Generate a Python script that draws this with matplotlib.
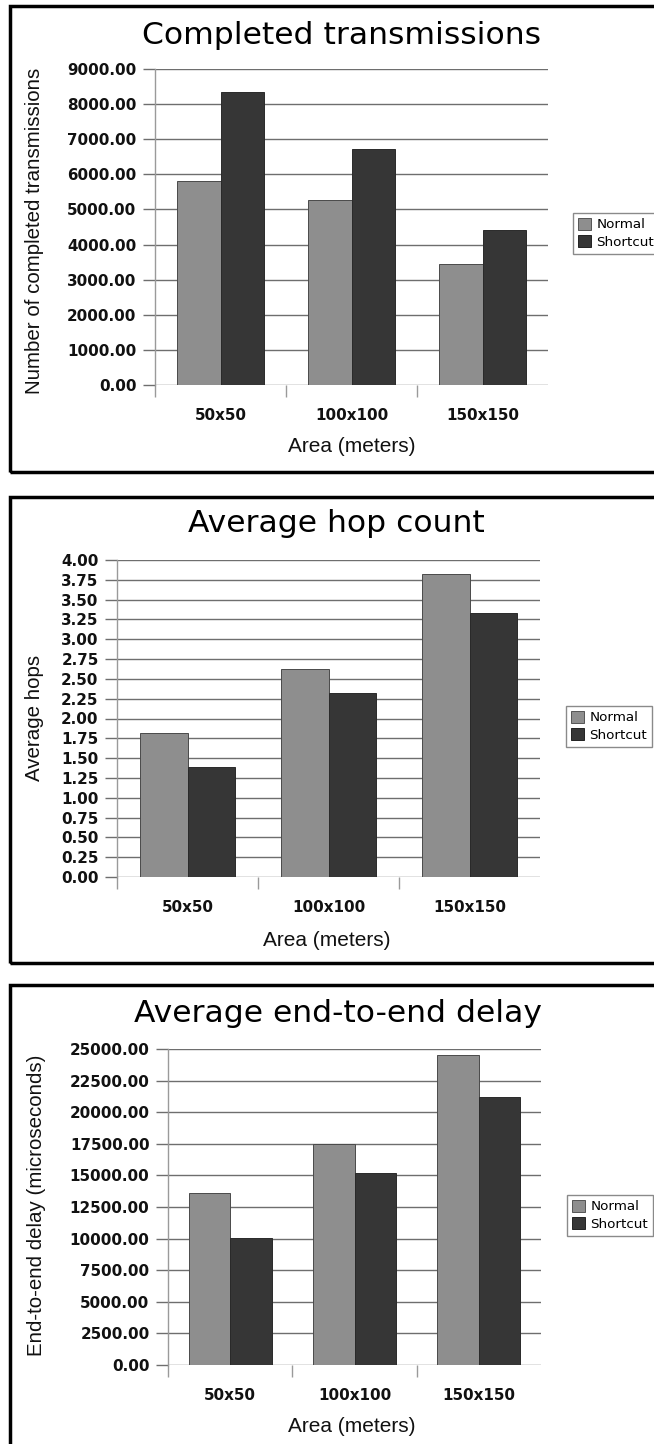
import matplotlib
matplotlib.use("Agg")
import matplotlib.pyplot as plt
from matplotlib.patches import Rectangle, Patch
from matplotlib.ticker import FormatStrFormatter, FixedLocator
import numpy as np

categories = ["50x50", "100x100", "150x150"]
series_names = ["Normal", "Shortcut"]

completed_normal = [5800, 5257, 3457]
completed_shortcut = [8343, 6733, 4410]

hops_normal = [1.82, 2.63, 3.82]
hops_shortcut = [1.385, 2.32, 3.325]

delay_normal = [13570, 17510, 24520]
delay_shortcut = [10080, 15185, 21240]

W, H = 654, 1444
fig = plt.figure(figsize=(W / 100, H / 100), dpi=100)

C_NORMAL = "#8e8e8e"
C_SHORT = "#363636"
GRID = "#6e6e6e"

panels = [
    dict(title="Completed transmissions", ylabel="Number of completed transmissions",
         normal=completed_normal, shortcut=completed_shortcut,
         ymax=9000, step=1000, ax=(155, 548, 69, 385), frame=(10, 6, 472),
         title_xy=(341, 35), ylabel_xy=(35, 231), xlabel_xy=(352, 447),
         legend_xy=(573, 213), bw=0.33),
    dict(title="Average hop count", ylabel="Average hops",
         normal=hops_normal, shortcut=hops_shortcut,
         ymax=4.0, step=0.25, ax=(117, 540, 560, 877), frame=(10, 497, 963),
         title_xy=(336, 524), ylabel_xy=(35, 718), xlabel_xy=(327, 940),
         legend_xy=(566, 706), bw=0.335),
    dict(title="Average end-to-end delay", ylabel="End-to-end delay (microseconds)",
         normal=delay_normal, shortcut=delay_shortcut,
         ymax=25000, step=2500, ax=(168, 541, 1049, 1365), frame=(10, 985, 1520),
         title_xy=(338, 1014), ylabel_xy=(37, 1205), xlabel_xy=(352, 1427),
         legend_xy=(567, 1195), bw=0.335),
]

x = np.arange(len(categories))

for p in panels:
    # frame
    fx, ftop, fbot = p["frame"]
    fig.add_artist(Rectangle((fx / W, 1 - fbot / H), (W + 50 - fx) / W, (fbot - ftop) / H,
                             transform=fig.transFigure, fill=False, edgecolor="black",
                             linewidth=2.5, clip_on=False))
    l, r, t, b = p["ax"]
    ax = fig.add_axes([l / W, 1 - b / H, (r - l) / W, (b - t) / H])
    bw = p["bw"]
    ax.bar(x - bw / 2, p["normal"], width=bw, color=C_NORMAL, edgecolor="#4a4a4a",
           linewidth=0.7, zorder=3, label=series_names[0])
    ax.bar(x + bw / 2, p["shortcut"], width=bw, color=C_SHORT, edgecolor="#2a2a2a",
           linewidth=0.7, zorder=3, label=series_names[1])
    ax.set_xlim(-0.5, len(categories) - 0.5)
    ax.set_ylim(0, p["ymax"])
    ticks = np.arange(0, p["ymax"] + p["step"] / 2, p["step"])
    ax.set_yticks(ticks)
    ax.yaxis.set_major_formatter(FormatStrFormatter("%.2f"))
    ax.yaxis.grid(True, color=GRID, linewidth=1.0, zorder=0)
    ax.tick_params(axis="y", length=8.3, width=1.0, color=GRID, pad=5,
                   labelsize=10.9)
    for lab in ax.get_yticklabels():
        lab.set_fontweight("bold")
        lab.set_color("#111111")
    ax.set_xticks(x)
    ax.set_xticklabels(categories, fontsize=10.9, fontweight="bold", color="#111111")
    ax.tick_params(axis="x", which="major", length=0, pad=16.5)
    ax.xaxis.set_minor_locator(FixedLocator([-0.5, 0.5, 1.5]))
    ax.tick_params(axis="x", which="minor", length=8.6, width=1.0, color="#9a9a9a",
                   direction="out")
    for s in ["top", "right", "bottom"]:
        ax.spines[s].set_visible(False)
    ax.spines["left"].set_color("#9a9a9a")
    ax.spines["left"].set_linewidth(1.0)
    ax.set_facecolor("none")
    # texts
    tx, ty = p["title_xy"]
    fig.text(tx / W, 1 - ty / H, p["title"], ha="center", va="center",
             fontsize=22.6, family="DejaVu Sans", color="black")
    yx, yy = p["ylabel_xy"]
    fig.text(yx / W, 1 - yy / H, p["ylabel"], ha="center", va="center",
             rotation=90, fontsize=14.8, family="Liberation Sans", color="#111111")
    xx, xy = p["xlabel_xy"]
    fig.text(xx / W, 1 - xy / H, "Area (meters)", ha="center", va="center",
             fontsize=15, family="Liberation Sans", color="#111111")
    lx, ly = p["legend_xy"]
    handles = [Patch(facecolor=C_NORMAL, edgecolor="#555555", linewidth=0.7),
               Patch(facecolor=C_SHORT, edgecolor="#222222", linewidth=0.7)]
    leg = fig.legend(handles, series_names, loc="upper left",
                     bbox_to_anchor=(lx / W, 1 - ly / H), bbox_transform=fig.transFigure,
                     fontsize=9.7, frameon=True, fancybox=False, framealpha=1,
                     edgecolor="#8a8a8a", borderpad=0.35, labelspacing=0.3,
                     handlelength=1.0, handleheight=1.0, handletextpad=0.4,
                     borderaxespad=0)
    leg.get_frame().set_linewidth(1.0)

fig.savefig("out.png", dpi=100)
